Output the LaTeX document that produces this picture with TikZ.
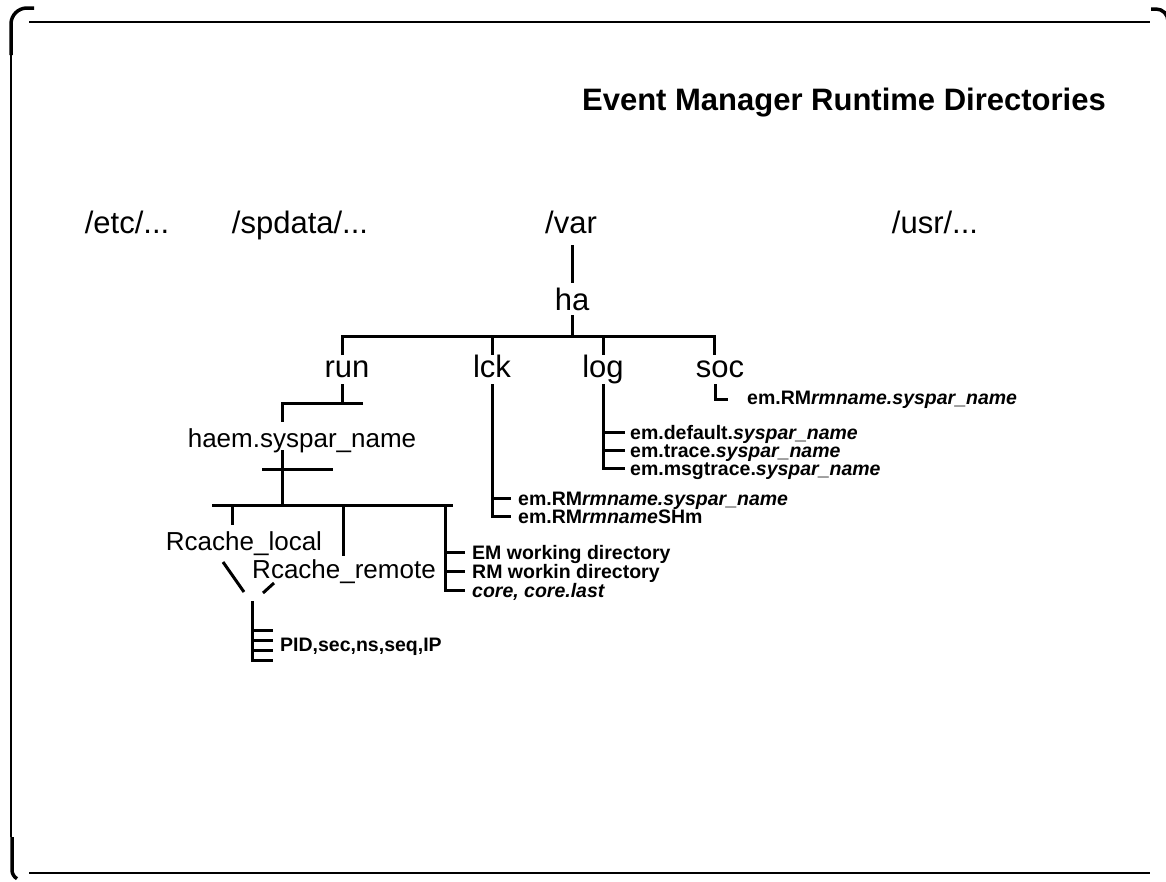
\documentclass[tikz,border=0pt]{standalone}
\usepackage{fontspec}
\setmainfont{Liberation Sans}
\begin{document}
\begin{tikzpicture}[x=1pt,y=-1pt,
  big/.style={font=\fontsize{31}{36}\selectfont, inner sep=0pt, anchor=base},
  mid/.style={font=\fontsize{26}{30}\selectfont, inner sep=0pt, anchor=base},
  leaf/.style={font=\bfseries\fontsize{19.5}{22}\selectfont, inner sep=0pt, anchor=base west},
  heading/.style={font=\bfseries\fontsize{31}{36}\selectfont, inner sep=0pt, anchor=base east},
  tree/.style={line width=3pt},
  frame/.style={line width=2pt},
  corner/.style={line width=3.5pt}]
\useasboundingbox (0,0) rectangle (1166,881);

% frame (y axis points down, so arc angles turn the other way)
\coordinate (tl1) at (29,22);  \coordinate (tr1) at (1150,22);
\coordinate (bl1) at (29,873); \coordinate (br1) at (1150,873);
\draw[frame] (tl1) -- (tr1);
\draw[frame] (bl1) -- (br1);
\coordinate (lt) at (11,55); \coordinate (lb) at (11,837);
\draw[line width=1.5pt] (lt) -- (lb);
\draw[corner] (11,55) -- (11,24) arc[start angle=180, end angle=270, radius=16] -- (34,8);
\draw[corner] (1151,9) -- (1156,9) arc[start angle=270, end angle=360, radius=12];
\draw[corner] (12,837) -- (12,870) arc[start angle=180, end angle=120, radius=10];

% title
\node[heading] (title) at (1106,110) {Event Manager Runtime Directories};

% top level directories
\node[big] (etc) at (127,233) {/etc/...};
\node[big] (spdata) at (300,233) {/spdata/...};
\node[big] (var) at (571,233) {/var};
\node[big] (usr) at (935,233) {/usr/...};

\coordinate (varB) at (572,245); \coordinate (haT) at (572,283);
\draw[tree] (varB) -- (haT);
\node[big] (ha) at (572,310) {ha};

% ha branches
\coordinate (haB) at (572,315); \coordinate (haJ) at (572,336);
\coordinate (runJ) at (342,336); \coordinate (runT) at (342,355);
\coordinate (lckJ) at (492,336); \coordinate (lckT) at (492,355);
\coordinate (logJ) at (603,336); \coordinate (logT) at (603,355);
\coordinate (socJ) at (714,336); \coordinate (socT) at (714,355);
\draw[tree] (haB) -- (haJ);
\draw[tree] (runT) -- (runJ) -- (socJ) -- (socT);
\draw[tree] (lckJ) -- (lckT);
\draw[tree] (logJ) -- (logT);

\node[big] (run) at (347,377) {run};
\node[big] (lck) at (492,377) {lck};
\node[big] (log) at (603,377) {log};
\node[big] (soc) at (720,377) {soc};

% soc
\coordinate (socB) at (715,384); \coordinate (socL) at (715,399); \coordinate (socE) at (728,399);
\draw[tree] (socB) -- (socL) -- (socE);
\node[leaf] (socf) at (747,404) {em.RM\textit{rmname.syspar\_name}};

% log
\coordinate (logB) at (603,384); \coordinate (logL) at (603,468);
\coordinate (log1) at (603,432); \coordinate (log1e) at (625,432);
\coordinate (log2) at (603,450); \coordinate (log2e) at (625,450);
\coordinate (log3e) at (625,468);
\draw[tree] (logB) -- (logL) -- (log3e);
\draw[tree] (log1) -- (log1e);
\draw[tree] (log2) -- (log2e);
\node[leaf] (logf1) at (630,439) {em.default.\textit{syspar\_name}};
\node[leaf] (logf2) at (630,457) {em.trace.\textit{syspar\_name}};
\node[leaf] (logf3) at (630,475) {em.msgtrace.\textit{syspar\_name}};

% lck
\coordinate (lckB) at (492,384); \coordinate (lckL) at (492,516);
\coordinate (lck1) at (492,498); \coordinate (lck1e) at (511,498);
\coordinate (lck2e) at (511,516);
\draw[tree] (lckB) -- (lckL) -- (lck2e);
\draw[tree] (lck1) -- (lck1e);
\node[leaf] (lckf1) at (518,505) {em.RM\textit{rmname.syspar\_name}};
\node[leaf] (lckf2) at (518,523) {em.RM\textit{rmname}SHm};

% run
\coordinate (runB) at (342,384); \coordinate (runK) at (342,403);
\coordinate (runR) at (363,403); \coordinate (haemK) at (282,403);
\coordinate (haemT) at (282,422);
\draw[tree] (runB) -- (runK);
\draw[tree] (runR) -- (haemK) -- (haemT);
\node[mid] (haem) at (302,447) {haem.syspar\_name};

% haem.syspar_name branches
\coordinate (haemB) at (282,450); \coordinate (haemJ) at (282,505);
\coordinate (crossL) at (262,469); \coordinate (crossR) at (333,469);
\draw[tree] (haemB) -- (haemJ);
\draw[tree] (crossL) -- (crossR);
\coordinate (barL) at (212,505); \coordinate (barR) at (453,505);
\draw[tree] (barL) -- (barR);
\coordinate (locJ) at (232,505); \coordinate (locT) at (232,525);
\coordinate (remJ) at (343,505); \coordinate (remT) at (343,556);
\draw[tree] (locJ) -- (locT);
\draw[tree] (remJ) -- (remT);
\node[mid] (rloc) at (244,550) {Rcache\_local};
\node[mid] (rrem) at (344,578) {Rcache\_remote};

% working directories
\coordinate (wdJ) at (445,505); \coordinate (wdL) at (445,590);
\coordinate (wd1) at (445,552); \coordinate (wd1e) at (465,552);
\coordinate (wd2) at (445,571); \coordinate (wd2e) at (465,571);
\coordinate (wd3e) at (465,590);
\draw[tree] (wdJ) -- (wdL) -- (wd3e);
\draw[tree] (wd1) -- (wd1e);
\draw[tree] (wd2) -- (wd2e);
\node[leaf] (wdf1) at (472,559) {EM working directory};
\node[leaf] (wdf2) at (472,578) {RM workin directory};
\node[leaf] (wdf3) at (472,597) {\textit{core, core.last}};

% Rcache contents
\coordinate (dg1a) at (223,562); \coordinate (dg1b) at (244,592);
\coordinate (dg2a) at (274,583); \coordinate (dg2b) at (263,593);
\draw[tree] (dg1a) -- (dg1b);
\draw[tree] (dg2a) -- (dg2b);
\coordinate (pidT) at (252,601); \coordinate (pidL) at (252,660);
\coordinate (pid1) at (252,630); \coordinate (pid1e) at (273,630);
\coordinate (pid2) at (252,640); \coordinate (pid2e) at (273,640);
\coordinate (pid3) at (252,650); \coordinate (pid3e) at (273,650);
\coordinate (pid4e) at (273,660);
\draw[tree] (pidT) -- (pidL) -- (pid4e);
\draw[tree] (pid1) -- (pid1e);
\draw[tree] (pid2) -- (pid2e);
\draw[tree] (pid3) -- (pid3e);
\node[leaf] (pidf) at (280,651) {PID,sec,ns,seq,IP};
\end{tikzpicture}
\end{document}
